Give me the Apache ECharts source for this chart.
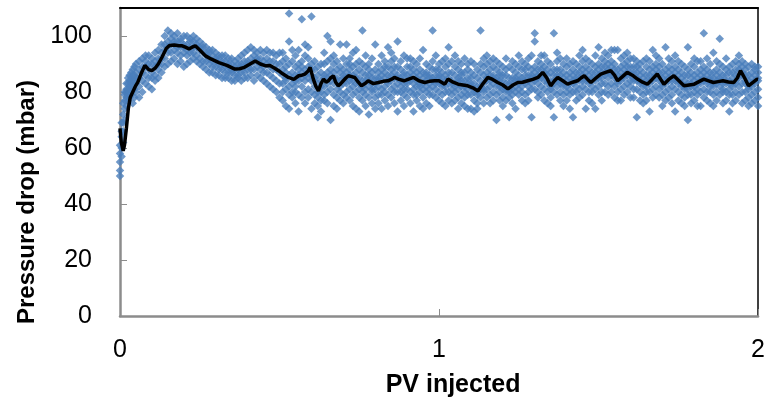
<!DOCTYPE html>
<html><head><meta charset="utf-8">
<script src="https://cdn.jsdelivr.net/npm/echarts@6/dist/echarts.min.js"></script>
<style>html,body{margin:0;padding:0;background:#fff}#c{width:768px;height:405px}</style>
</head><body><div id="c"></div>
<script>
// Tick labels
const xTicks = [0, 1, 2];
const yTicks = [0, 20, 40, 60, 80, 100];
const xTitle = 'PV injected';
const yTitle = 'Pressure drop (mbar)';

// Measured points, grouped in columns: [PV, y1, y2, ...]
const measuredStart = [
  [0.000, 50,52,55,58,61],
  [0.005, 57,60,64,66,69],
  [0.010, 62,66,69,72,76],
  [0.015, 70,74,77,79,80],
  [0.020, 75,78,80,81,83],
  [0.025, 77,79,81,83,85],
  [0.030, 78,80,82,84,86],
  [0.035, 79,81,83,85,87],
  [0.040, 76,82,84,86,88],
  [0.045, 78,81,84,86,89],
  [0.050, 80,83,85,87,90]
];
const measuredRise = [
  [0.06, 78,82,85,88,91],[0.07, 80,84,87,89,92],[0.08, 83,86,89,91,93],[0.09, 82,85,88,90,93],
  [0.10, 81,85,87,90,92],[0.11, 84,86,89,91,94],[0.12, 85,88,90,92,95],[0.13, 87,90,92,94,97],
  [0.14, 89,92,95,97,100],[0.15, 90,94,96,98,102],[0.16, 91,94,97,99,101],[0.17, 92,95,97,98,100],
  [0.18, 90,94,96,98,101],[0.19, 91,93,96,98,99],[0.20, 89,94,96,97,100],[0.21, 90,93,95,97,100],
  [0.22, 91,94,96,98,99],[0.23, 92,94,96,98,100],[0.24, 91,93,96,97,99],[0.25, 90,92,95,96,98],
  [0.26, 89,91,94,96,97],[0.27, 88,91,93,94,96],[0.28, 87,90,92,94,95],[0.29, 87,89,91,93,95],
  [0.30, 86,89,91,92,94],[0.31, 86,88,90,92,93],[0.32, 85,88,90,91,93],[0.33, 85,87,89,91,93],
  [0.34, 85,87,89,90,92],[0.35, 84,87,88,90,92],[0.36, 84,86,88,89,91],[0.37, 85,86,88,90,92],
  [0.38, 84,87,89,90,93],[0.39, 85,87,89,91,94],[0.40, 85,88,90,91,95],[0.41, 86,88,90,92,96],
  [0.42, 84,88,91,93,95],[0.43, 86,89,91,92,94],[0.44, 85,88,90,92,95],[0.45, 84,87,89,91,94],
  [0.46, 83,87,90,92,95],[0.47, 82,86,89,91,94],[0.48, 81,85,88,91,94],[0.49, 80,84,88,90,93],
  [0.50, 78,83,87,90,94]
];
const measuredSteady = [
  [0.51, 77,83,86,88,91,80,94],[0.52, 81,85,89,92,75,87,84],[0.53, 74,108,82,86,90,79,98],
  [0.54, 83,87,78,91,85,95,80],[0.55, 86,80,89,76,93,84,82],[0.56, 79,84,88,90,86,73,95],
  [0.57, 82,106,87,91,78,85,89],[0.58, 84,88,80,93,86,76,97],[0.59, 96,85,89,81,92,87,78],
  [0.60, 107,74,84,88,90,86,80],[0.61, 85,79,82,88,76,91,84],[0.62, 71,78,83,86,80,89,75],
  [0.63, 80,84,87,77,82,90,73],[0.64, 82,86,79,90,85,94,77],[0.65, 100,83,87,80,91,85,76],
  [0.66, 70,98,84,88,81,86,92],[0.67, 83,87,79,90,85,75,93],[0.68, 81,85,78,88,84,74,91],
  [0.69, 97,80,84,87,82,77,89],[0.70, 85,79,88,83,92,76,86],[0.71, 83,87,80,90,97,85,78],
  [0.72, 84,88,81,92,86,77,90],[0.73, 86,82,89,79,94,84,75],[0.74, 95,83,87,80,85,90,74],
  [0.75, 81,85,78,88,83,73,91],[0.76, 102,80,84,77,87,82,90],[0.77, 84,79,86,81,89,75,93],
  [0.78, 82,86,78,90,84,72,88],[0.79, 85,80,87,83,92,76,81],[0.80, 97,81,85,78,88,83,74],
  [0.81, 84,79,87,82,90,76,85],[0.82, 86,81,88,79,93,84,74],[0.83, 82,87,80,85,91,77,89],
  [0.84, 96,83,86,79,89,84,75],[0.85, 84,88,81,91,86,78,94],[0.86, 87,82,89,80,85,92,76],
  [0.87, 73,86,83,89,80,98,85],[0.88, 85,80,88,82,91,77,84],[0.89, 83,87,79,86,93,81,75],
  [0.90, 86,81,84,89,78,92,83],[0.91, 92,84,87,80,89,85,76],[0.92, 73,83,88,81,86,91,79],
  [0.93, 85,82,87,79,90,84,77],[0.94, 83,86,80,88,92,82,75],[0.95, 95,81,85,78,87,83,74],
  [0.96, 84,80,87,82,90,76,86],[0.97, 75,83,86,81,89,85,79],[0.98, 102,82,85,79,88,84,91],
  [0.99, 86,81,84,88,78,93,83],[1.00, 90,83,86,80,85,77,88],[1.01, 82,85,79,87,83,91,76],
  [1.02, 84,80,86,82,89,75,92],[1.03, 96,83,87,80,85,90,77],[1.04, 76,84,81,87,83,91,79],
  [1.05, 83,80,86,82,89,77,93],[1.06, 81,85,78,84,88,74,91],[1.07, 84,79,86,82,90,76,87],
  [1.08, 80,84,78,87,82,92,75],[1.09, 83,79,85,81,88,74,90],[1.10, 91,74,82,85,79,87,83],
  [1.11, 80,83,77,86,81,90,73],[1.12, 79,82,76,85,80,88,74],[1.13, 102,81,84,78,87,82,90],
  [1.14, 83,80,86,81,89,76,92],[1.15, 90,84,87,81,85,78,93],[1.16, 86,82,88,84,91,79,76],
  [1.17, 77,83,86,80,89,85,92],[1.18, 70,82,85,79,88,84,91],[1.19, 84,80,87,82,90,77,86],
  [1.20, 81,84,78,86,82,89,75],[1.21, 92,80,83,77,86,81,88],[1.22, 71,80,83,78,85,81,89],
  [1.23, 83,79,85,81,88,76,91],[1.24, 74,82,85,80,87,84,90],[1.25, 84,81,86,79,89,83,93],
  [1.26, 85,82,88,80,91,84,77],[1.27, 90,83,86,79,88,84,76],[1.28, 82,86,80,89,84,77,92],
  [1.29, 71,85,83,88,81,86,93],[1.30, 101,98,84,87,81,89,85],[1.31, 86,83,88,80,91,85,78],
  [1.32, 93,85,88,82,90,86,79],[1.33, 84,87,81,89,86,93,77],[1.34, 83,86,80,88,84,91,76],
  [1.35, 81,84,78,87,82,90,75],[1.36, 101,71,83,86,80,88,84],[1.37, 86,82,88,84,91,79,94],
  [1.38, 83,86,80,88,84,77,92],[1.39, 82,85,79,87,83,90,75],[1.40, 84,80,86,82,89,77,92],
  [1.41, 81,85,79,87,83,74,90],[1.42, 71,83,86,80,88,84,91],[1.43, 85,82,87,80,90,84,77],
  [1.44, 84,87,81,89,85,93,78],[1.45, 86,82,88,84,91,79,95],[1.46, 74,84,87,81,89,85,92],
  [1.47, 83,86,80,88,84,77,91],[1.48, 85,82,87,80,90,84,76],[1.49, 93,74,84,87,81,89,85],
  [1.50, 96,85,88,82,90,86,79],[1.51, 87,83,89,85,92,80,77],[1.52, 94,86,89,83,91,87,80],
  [1.53, 85,88,82,90,87,93,79],[1.54, 86,89,83,91,87,80,95],[1.55, 95,85,88,82,90,86,78],
  [1.56, 83,86,80,88,84,77,95],[1.57, 77,84,87,81,89,85,92],[1.58, 85,88,82,90,86,79,93],
  [1.59, 86,89,83,91,87,80,94],[1.60, 87,84,89,82,92,86,78],[1.61, 84,87,81,89,85,78,92],
  [1.62, 71,84,87,81,89,85,91],[1.63, 83,86,80,88,84,77,90],[1.64, 82,85,79,87,83,76,91],
  [1.65, 84,80,86,82,89,77,92],[1.66, 73,83,86,80,88,84,91],[1.67, 95,84,87,81,89,85,78],
  [1.68, 85,88,82,90,86,79,93],[1.69, 84,87,81,89,85,92,78],[1.70, 75,82,85,79,87,83,90],
  [1.71, 96,83,86,80,88,84,77],[1.72, 84,87,81,89,85,78,92],[1.73, 86,82,88,84,91,79,76],
  [1.74, 73,84,87,81,89,85,93],[1.75, 83,86,80,88,84,77,91],[1.76, 82,85,79,87,83,90,76],
  [1.77, 81,84,78,86,82,89,75],[1.78, 96,70,83,79,86,81,88],[1.79, 82,85,79,87,83,76,90],
  [1.80, 84,80,86,82,89,77,92],[1.81, 81,85,79,87,83,75,91],[1.82, 75,83,86,80,88,84,91],
  [1.83, 101,84,87,81,89,85,78],[1.84, 83,86,80,88,84,77,92],[1.85, 85,82,87,80,90,84,76],
  [1.86, 94,75,82,85,79,87,83],[1.87, 83,86,80,88,84,77,91],[1.88, 99,82,85,79,87,84,90],
  [1.89, 84,81,86,80,89,83,76],[1.90, 83,86,80,88,84,77,92],[1.91, 73,84,81,87,83,89,79],
  [1.92, 82,85,79,87,83,90,76],[1.93, 83,86,80,88,84,77,91],[1.94, 85,88,82,90,86,79,93],
  [1.95, 76,86,89,83,91,87,80],[1.96, 83,86,80,88,84,77,90],[1.97, 81,84,78,86,82,89,75],
  [1.98, 82,85,79,87,83,76,90],[1.99, 83,86,80,88,84,77,89],[2.00, 75,84,87,81,89,85,78]
];

// Moving-average curve: [PV, mbar]
const averageCurve = [
  [0.000,67],[0.004,62],[0.010,59],[0.014,61],[0.020,67],[0.026,74],[0.032,78],[0.040,80],
  [0.048,82],[0.056,83.5],[0.066,86.5],[0.078,89.5],[0.090,88],[0.100,87.6],[0.110,88.5],
  [0.120,90],[0.132,92.5],[0.145,95.5],[0.155,96.6],[0.170,96.8],[0.185,96.5],[0.195,96.5],
  [0.205,96],[0.216,95.4],[0.226,96],[0.236,96.5],[0.250,95],[0.268,92.9],[0.285,91.8],
  [0.310,90.5],[0.335,89.5],[0.360,88.2],[0.375,88.3],[0.390,88.8],[0.405,89.8],[0.424,91.1],
  [0.440,90],[0.455,89.4],[0.470,89.5],[0.485,88.5],[0.497,87.6],[0.510,86.5],[0.528,85.2],
  [0.545,84.5],[0.560,85.8],[0.570,86],[0.580,86.4],[0.590,87.5],[0.596,88.8],[0.606,84.6],
  [0.614,82],[0.622,80.4],[0.630,83],[0.638,84.6],[0.646,83.5],[0.653,84],[0.660,85],
  [0.669,85.8],[0.676,83.5],[0.684,82.2],[0.692,83],[0.700,84],[0.708,85],[0.716,85.8],
  [0.726,85.5],[0.736,85.2],[0.747,83.5],[0.757,82.2],[0.768,83],[0.778,84],[0.794,83],
  [0.810,83.4],[0.825,83.8],[0.840,84],[0.850,84.5],[0.860,85.2],[0.875,84.5],[0.890,84],
  [0.905,84.6],[0.920,85.2],[0.937,84],[0.955,83.4],[0.970,83.8],[0.986,84],[1.000,84],
  [1.018,82.8],[1.028,84.6],[1.044,83.5],[1.060,82.8],[1.075,82.5],[1.090,82.2],[1.106,81.5],
  [1.122,80.4],[1.138,83],[1.153,85.2],[1.168,84.5],[1.184,83.4],[1.200,82.5],[1.216,81.1],
  [1.232,82.5],[1.247,83.4],[1.262,83.5],[1.278,84],[1.294,84.5],[1.310,85.2],[1.325,87],
  [1.338,85],[1.350,82.2],[1.362,84],[1.372,85.2],[1.388,84],[1.403,82.8],[1.419,83.5],
  [1.434,84],[1.445,85],[1.455,85.8],[1.466,84.5],[1.476,83.4],[1.492,85],[1.507,86.4],
  [1.522,87],[1.538,87.6],[1.550,86],[1.560,84],[1.575,85.5],[1.590,87],[1.606,86],
  [1.622,84.6],[1.638,83.5],[1.653,82.8],[1.668,84.5],[1.684,86.4],[1.695,84.5],[1.705,82.8],
  [1.720,84.5],[1.736,85.8],[1.752,84],[1.768,82.2],[1.784,82.5],[1.800,82.8],[1.815,83.7],
  [1.830,84.6],[1.845,84],[1.860,83.4],[1.875,83.7],[1.890,84],[1.907,83.6],[1.924,83.4],
  [1.935,85],[1.945,87.6],[1.958,85],[1.970,82.2],[1.985,83.5],[1.997,84.6],[2.000,84.5]
];

const scatterPoints = [];
[measuredStart, measuredRise, measuredSteady].forEach(group => {
  group.forEach(col => {
    for (let i = 1; i < col.length; i++) scatterPoints.push([col[0], col[i]]);
  });
});

const FONT = '"Liberation Sans", Arial, sans-serif';
const chart = echarts.init(document.getElementById('c'), null, {renderer: 'canvas'});
chart.setOption({
  animation: false,
  backgroundColor: '#fff',
  grid: {left: 120, right: 6, top: 8, bottom: 89},
  xAxis: [{
    type: 'value', min: xTicks[0], max: xTicks[xTicks.length - 1], interval: 1,
    name: xTitle, nameLocation: 'middle', nameGap: 57,
    nameTextStyle: {fontFamily: FONT, fontSize: 25, fontWeight: 'bold', color: '#000', padding: [0, 0, 0, 28]},
    axisLine: {onZero: false, lineStyle: {color: '#8c8c8c', width: 2.5}},
    axisTick: {inside: true, length: 7, lineStyle: {color: '#8c8c8c', width: 1}},
    axisLabel: {fontFamily: FONT, fontSize: 25, color: '#000', margin: 22},
    splitLine: {show: false}
  }, {
    type: 'value', position: 'top', min: 0, max: 2,
    axisLine: {show: true, onZero: false, lineStyle: {color: '#000', width: 2}},
    axisTick: {show: false}, axisLabel: {show: false}, splitLine: {show: false}
  }],
  yAxis: [{
    type: 'value', min: yTicks[0], max: 110, interval: 20,
    name: yTitle, nameLocation: 'middle', nameGap: 76, nameRotate: 90,
    nameTextStyle: {fontFamily: FONT, fontSize: 24, fontWeight: 'bold', color: '#000', padding: [0, 80, 0, 0]},
    axisLine: {onZero: false, lineStyle: {color: '#8c8c8c', width: 2.5}},
    axisTick: {inside: true, length: 7, lineStyle: {color: '#8c8c8c', width: 1}},
    axisLabel: {fontFamily: FONT, fontSize: 25, color: '#000', margin: 28, showMaxLabel: false,
      formatter: v => yTicks.indexOf(v) >= 0 ? String(v) : ''},
    splitLine: {show: false}
  }, {
    type: 'value', position: 'right', min: 0, max: 110,
    axisLine: {show: true, onZero: false, lineStyle: {color: '#000', width: 1.5}},
    axisTick: {show: false}, axisLabel: {show: false}, splitLine: {show: false}
  }],
  series: [{
    type: 'scatter', xAxisIndex: 0, yAxisIndex: 0,
    symbol: 'diamond', symbolSize: 8.5,
    itemStyle: {color: '#4A7EBB'},
    data: scatterPoints, z: 2
  }, {
    type: 'line', xAxisIndex: 0, yAxisIndex: 0,
    showSymbol: false, symbol: 'none',
    lineStyle: {color: '#000', width: 3.5},
    data: averageCurve, z: 3
  }]
});
</script>
</body></html>
